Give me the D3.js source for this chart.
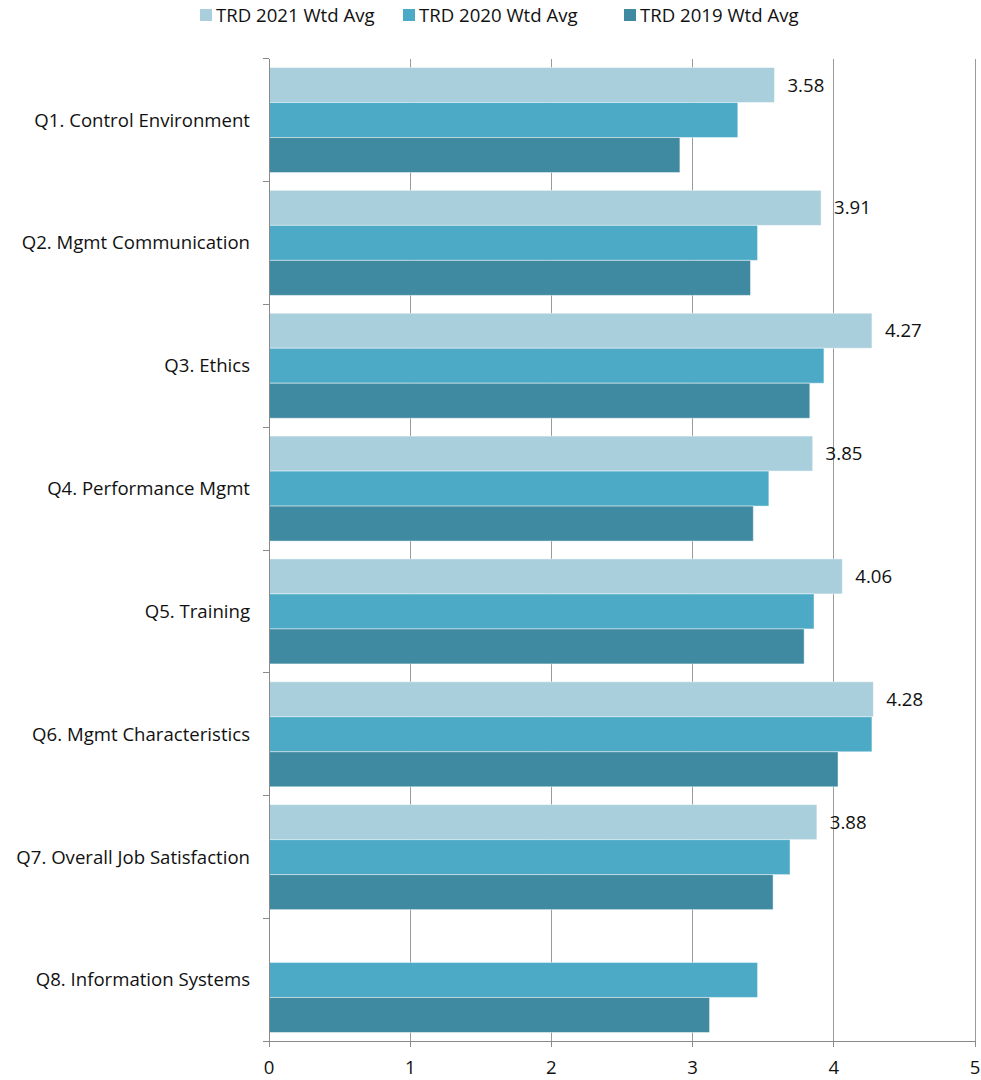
<!DOCTYPE html>
<html><head><meta charset="utf-8">
<script src="https://cdn.jsdelivr.net/npm/d3@7"></script>
<style>
body{margin:0;background:#fff;}
svg{display:block;font-family:"Open Sans","Noto Sans",sans-serif;}
</style></head>
<body>
<svg id="chart" width="981" height="1080"></svg>
<script>
const categories = ["Q1. Control Environment","Q2. Mgmt Communication","Q3. Ethics","Q4. Performance Mgmt","Q5. Training","Q6. Mgmt Characteristics","Q7. Overall Job Satisfaction","Q8. Information Systems"];
const seriesNames = ["TRD 2021 Wtd Avg","TRD 2020 Wtd Avg","TRD 2019 Wtd Avg"];
const values2021 = [3.58,3.91,4.27,3.85,4.06,4.28,3.88,null];
const values2020 = [3.32,3.46,3.93,3.54,3.86,4.27,3.69,3.46];
const values2019 = [2.91,3.41,3.83,3.43,3.79,4.03,3.57,3.12];
const xTicks = [0,1,2,3,4,5];
const colors = ["#A9CEDC","#4DAAC6","#3F8AA0"];

const seriesValues = [values2021, values2020, values2019];
const svg = d3.select("#chart");
const pL = 269, pR = 975, pT = 58.6, pB = 1041.4;
const fs = 18.6;

const x = d3.scaleLinear().domain([0,5]).range([pL,pR]);
const y = d3.scaleBand().domain(categories).range([pT,pB]).paddingInner(0).paddingOuter(0);
const ys = d3.scaleBand().domain(seriesNames).range([0,y.bandwidth()]).paddingInner(0).paddingOuter(0.255);

// grid
svg.append("g").selectAll("line").data(xTicks.slice(1)).join("line")
  .attr("x1",d=>x(d)).attr("x2",d=>x(d)).attr("y1",pT).attr("y2",pB)
  .attr("stroke","#9a9a9a").attr("stroke-width",1).attr("shape-rendering","crispEdges");

// bars
const rows = [];
categories.forEach((c,i)=>seriesNames.forEach((s,j)=>{
  const v = seriesValues[j][i];
  if (v!=null) rows.push({c,s,v,j});
}));
svg.append("g").selectAll("rect").data(rows).join("rect")
  .attr("x",x(0)).attr("y",d=>y(d.c)+ys(d.s))
  .attr("width",d=>x(d.v)-x(0)).attr("height",ys.bandwidth())
  .attr("fill",d=>colors[d.j])
  .attr("stroke","rgba(255,255,255,0.45)").attr("stroke-width",1);

// data labels (2021 only)
svg.append("g").selectAll("text").data(rows.filter(d=>d.j===0)).join("text")
  .attr("x",d=>x(d.v)+13).attr("y",d=>y(d.c)+ys(d.s)+ys.bandwidth()/2)
  .attr("dy","0.35em").attr("font-size",fs).attr("fill","#111")
  .text(d=>d.v.toFixed(2));

// y axis
const yAxis = svg.append("g").attr("transform",`translate(${pL},0)`);
yAxis.append("line").attr("x1",0).attr("x2",0).attr("y1",pT).attr("y2",pB)
  .attr("stroke","#8a8a8a").attr("shape-rendering","crispEdges");
const bounds = categories.map(c=>y(c)).concat([pB]);
yAxis.selectAll("line.tk").data(bounds).join("line").attr("class","tk")
  .attr("x1",-6).attr("x2",0).attr("y1",d=>d).attr("y2",d=>d)
  .attr("stroke","#8a8a8a").attr("shape-rendering","crispEdges");
yAxis.selectAll("text").data(categories).join("text")
  .attr("x",-19).attr("y",d=>y(d)+y.bandwidth()/2).attr("dy","0.35em")
  .attr("text-anchor","end").attr("font-size",fs).attr("fill","#111")
  .text(d=>d);

// x axis
const xAxis = svg.append("g").attr("transform",`translate(0,${pB})`);
xAxis.append("line").attr("x1",pL-6).attr("x2",pR).attr("y1",0).attr("y2",0)
  .attr("stroke","#8a8a8a").attr("shape-rendering","crispEdges");
xAxis.selectAll("line.tk").data(xTicks).join("line").attr("class","tk")
  .attr("x1",d=>x(d)).attr("x2",d=>x(d)).attr("y1",0).attr("y2",6)
  .attr("stroke","#8a8a8a").attr("shape-rendering","crispEdges");
xAxis.selectAll("text").data(xTicks).join("text")
  .attr("x",d=>x(d)).attr("y",33).attr("text-anchor","middle")
  .attr("font-size",fs).attr("fill","#111").text(d=>d);

// legend
const legendX = [200, 403, 624];
const lg = svg.append("g").selectAll("g").data(seriesNames).join("g")
  .attr("transform",(d,i)=>`translate(${legendX[i]},9)`);
lg.append("rect").attr("width",12).attr("height",12).attr("fill",(d,i)=>colors[i]);
lg.append("text").attr("x",16).attr("y",6).attr("dy","0.35em")
  .attr("font-size",fs).attr("fill","#111").text(d=>d);
</script>
</body></html>
